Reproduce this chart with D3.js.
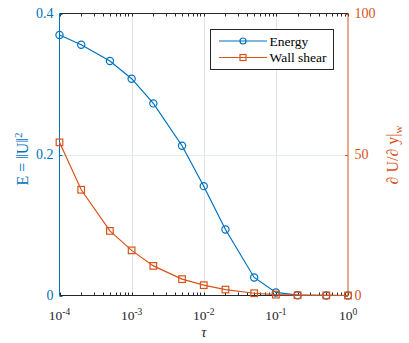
<!DOCTYPE html>
<html>
<head>
<meta charset="utf-8">
<script src="https://cdn.jsdelivr.net/npm/d3@7/dist/d3.min.js"></script>
<style>
  html, body { margin: 0; padding: 0; background: #fff; }
  svg { display: block; }
</style>
</head>
<body>
<svg id="chart" width="409" height="343"></svg>
<script>
// Relaxation parameter sweep
const tau = [1e-4, 2e-4, 5e-4, 1e-3, 2e-3, 5e-3, 1e-2, 2e-2, 5e-2, 1e-1, 2e-1, 5e-1, 1];
const energy = [0.3695, 0.3557, 0.3326, 0.3075, 0.2725, 0.2124, 0.1551, 0.0937, 0.0256, 0.0043, 0.0004, 0.0001, 0.0];
const wallShear = [54.3, 37.5, 22.9, 16.0, 10.5, 5.8, 3.66, 2.1, 0.8, 0.3, 0.1, 0.05, 0];

const xTicks = [1e-4, 1e-3, 1e-2, 1e-1, 1];
const xTickExponents = ["-4", "-3", "-2", "-1", "0"];
const leftTicks = [0, 0.2, 0.4];
const leftTickLabels = ["0", "0.2", "0.4"];
const rightTicks = [0, 50, 100];
const rightTickLabels = ["0", "50", "100"];
const seriesNames = ["Energy", "Wall shear"];

const blue = "#0072BD";
const orange = "#D95319";
const axisGray = "#262626";
const serif = "Liberation Serif";

const X0 = 59.5, X1 = 348, Y0 = 295.5, Y1 = 13.5;
const svg = d3.select("#chart");

const x = d3.scaleLog().domain([1e-4, 1]).range([X0, X1]);
const yL = d3.scaleLinear().domain([0, 0.4]).range([Y0, Y1]);
const yR = d3.scaleLinear().domain([0, 100]).range([Y0, Y1]);

// grid
const grid = svg.append("g");
grid.selectAll("line.vg").data(xTicks.slice(1, -1)).join("line")
  .attr("x1", d => Math.round(x(d)) + 0.5).attr("x2", d => Math.round(x(d)) + 0.5)
  .attr("y1", Y1).attr("y2", Y0)
  .attr("stroke", "#e3e3e3").attr("stroke-width", 1);
grid.selectAll("line.hg").data(leftTicks.slice(1, -1)).join("line")
  .attr("x1", X0).attr("x2", X1)
  .attr("y1", d => Math.round(yL(d)) + 0.5).attr("y2", d => Math.round(yL(d)) + 0.5)
  .attr("stroke", "#e0ecf6").attr("stroke-width", 1);

// minor + major x ticks (bottom and top, pointing inward)
const minor = [];
for (let e = -4; e < 0; e++) for (let m = 2; m <= 9; m++) minor.push(m * Math.pow(10, e));
const xAll = xTicks.concat(minor);
const tickG = svg.append("g").attr("stroke", axisGray).attr("stroke-width", 1);
tickG.selectAll("line.b").data(xAll).join("line")
  .attr("x1", d => Math.round(x(d)) + 0.5).attr("x2", d => Math.round(x(d)) + 0.5)
  .attr("y1", Y0).attr("y2", Y0 - 3);
tickG.selectAll("line.t").data(xAll).join("line")
  .attr("x1", d => Math.round(x(d)) + 0.5).attr("x2", d => Math.round(x(d)) + 0.5)
  .attr("y1", Y1).attr("y2", Y1 + 3);

// frame: bottom/top dark, left blue, right orange
svg.append("line").attr("x1", X0).attr("x2", X1).attr("y1", Y0).attr("y2", Y0)
  .attr("stroke", axisGray).attr("stroke-width", 1);
svg.append("line").attr("x1", X0).attr("x2", X1).attr("y1", Y1).attr("y2", Y1)
  .attr("stroke", axisGray).attr("stroke-width", 1);

// left y ticks
svg.append("g").selectAll("line").data(leftTicks).join("line")
  .attr("x1", X0).attr("x2", X0 + 3)
  .attr("y1", d => Math.round(yL(d)) + 0.5).attr("y2", d => Math.round(yL(d)) + 0.5)
  .attr("stroke", blue);
// right y ticks
svg.append("g").selectAll("line").data(rightTicks).join("line")
  .attr("x1", X1).attr("x2", X1 - 3)
  .attr("y1", d => Math.round(yR(d)) + 0.5).attr("y2", d => Math.round(yR(d)) + 0.5)
  .attr("stroke", orange);

svg.append("line").attr("x1", X0).attr("x2", X0).attr("y1", Y0).attr("y2", Y1)
  .attr("stroke", blue).attr("stroke-width", 1);
svg.append("line").attr("x1", X1).attr("x2", X1).attr("y1", Y0).attr("y2", Y1)
  .attr("stroke", orange).attr("stroke-width", 1);

// tick labels
xTicks.forEach((d, i) => {
  const t = svg.append("text").attr("x", x(d)).attr("y", 320).attr("text-anchor", "middle")
    .attr("font-family", serif).attr("font-size", 13.5).attr("fill", axisGray);
  t.append("tspan").text("10");
  t.append("tspan").attr("font-size", 9.5).attr("dy", -5.5).text(xTickExponents[i]);
});
leftTicks.forEach((d, i) => {
  svg.append("text").attr("x", 53.5).attr("y", yL(d) + 4.5).attr("text-anchor", "end")
    .attr("font-family", serif).attr("font-size", 14).attr("fill", blue)
    .text(leftTickLabels[i]);
});
rightTicks.forEach((d, i) => {
  svg.append("text").attr("x", 354.5).attr("y", yR(d) + 4.5).attr("text-anchor", "start")
    .attr("font-family", serif).attr("font-size", 14).attr("fill", orange)
    .text(rightTickLabels[i]);
});

// axis titles
svg.append("text").attr("x", (X0 + X1) / 2).attr("y", 337).attr("text-anchor", "middle")
  .attr("font-family", serif).attr("font-size", 14.5).attr("font-style", "italic")
  .attr("fill", axisGray).text("τ");

const lt = svg.append("text").attr("transform", "translate(28,159) rotate(-90)")
  .attr("font-family", serif).attr("text-anchor", "middle")
  .attr("font-size", 16).attr("fill", blue);
lt.append("tspan").text("E = ‖U‖");
lt.append("tspan").attr("font-size", 11).attr("dy", -6.5).text("2");

const rt = svg.append("text").attr("transform", "translate(398,155) rotate(-90)")
  .attr("font-family", serif).attr("text-anchor", "middle")
  .attr("font-size", 16).attr("fill", orange);
rt.append("tspan").text("∂ U/∂ y|");
rt.append("tspan").attr("font-size", 11).attr("dy", 4).text("w");

// series
const clipId = "plotclip";
svg.append("clipPath").attr("id", clipId).append("rect")
  .attr("x", X0 - 6).attr("y", Y1 - 6).attr("width", X1 - X0 + 12).attr("height", Y0 - Y1 + 12);

const eData = tau.map((t, i) => [t, energy[i]]);
const wData = tau.map((t, i) => [t, wallShear[i]]);

const plot = svg.append("g").attr("clip-path", `url(#${clipId})`);
plot.append("path").datum(eData)
  .attr("d", d3.line().x(d => x(d[0])).y(d => yL(d[1])))
  .attr("fill", "none").attr("stroke", blue).attr("stroke-width", 1.2);
plot.selectAll("circle.e").data(eData).join("circle")
  .attr("cx", d => x(d[0])).attr("cy", d => yL(d[1])).attr("r", 3.6)
  .attr("fill", "none").attr("stroke", blue).attr("stroke-width", 1.2);

plot.append("path").datum(wData)
  .attr("d", d3.line().x(d => x(d[0])).y(d => yR(d[1])))
  .attr("fill", "none").attr("stroke", orange).attr("stroke-width", 1.2);
plot.selectAll("rect.w").data(wData).join("rect")
  .attr("x", d => x(d[0]) - 3.3).attr("y", d => yR(d[1]) - 3.3)
  .attr("width", 6.6).attr("height", 6.6)
  .attr("fill", "none").attr("stroke", orange).attr("stroke-width", 1.2);

// legend
const lg = svg.append("g");
lg.append("rect").attr("x", 210.5).attr("y", 29.5).attr("width", 123).attr("height", 40)
  .attr("fill", "#fff").attr("stroke", axisGray).attr("stroke-width", 1);
const legendRows = [
  { name: seriesNames[0], color: blue, y: 41 },
  { name: seriesNames[1], color: orange, y: 57.5 }
];
legendRows.forEach((r, i) => {
  lg.append("line").attr("x1", 219).attr("x2", 267).attr("y1", r.y).attr("y2", r.y)
    .attr("stroke", r.color).attr("stroke-width", 1.2);
  if (i === 0) {
    lg.append("circle").attr("cx", 243).attr("cy", r.y).attr("r", 3)
      .attr("fill", "none").attr("stroke", r.color).attr("stroke-width", 1.2);
  } else {
    lg.append("rect").attr("x", 240).attr("y", r.y - 3).attr("width", 6).attr("height", 6)
      .attr("fill", "none").attr("stroke", r.color).attr("stroke-width", 1.2);
  }
  lg.append("text").attr("x", 269.5).attr("y", r.y + 4.5)
    .attr("font-family", serif).attr("font-size", 13.5)
    .attr("fill", "#000").text(r.name);
});
</script>
</body>
</html>
